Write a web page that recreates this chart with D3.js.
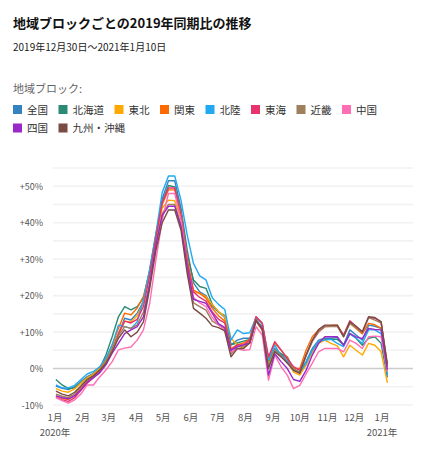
<!DOCTYPE html>
<html><head><meta charset="utf-8">
<script src="https://cdn.jsdelivr.net/npm/d3@7"></script>
<style>
body{margin:0;background:#fff;font-family:"Noto Sans CJK JP","Noto Sans",sans-serif;}
</style></head><body>
<svg id="chart" width="428" height="450"></svg>
<script>
const title = "地域ブロックごとの2019年同期比の推移";
const subtitle = "2019年12月30日〜2021年1月10日";
const legendTitle = "地域ブロック:";
const regions = ["全国","北海道","東北","関東","北陸","東海","近畿","中国","四国","九州・沖縄"];
const colors = ["#3582c0","#2a8a74","#ffa800","#ff6a00","#21a9f2","#e8336e","#a07f5e","#ff6eb4","#9b27c9","#7a4a45"];
const startDate = "2020-01-02"; // mid-week of the first week (week of 2019-12-30)
const yTicks = [-10,0,10,20,30,40,50];
const yGrid = [-10,-5,0,5,10,15,20,25,30,35,40,45,50,55];
const monthLabels = ["1月","2月","3月","4月","5月","6月","7月","8月","9月","10月","11月","12月","1月"];
const yearLabels = [["2020-01-01","2020年"],["2021-01-01","2021年"]];

const s_zenkoku = [-4.8,-5.4,-5.8,-5.0,-3.6,-2.2,-1.3,0.2,2.6,5.6,
 9.5,13.8,13.3,15.2,18.4,26.0,36.0,46.5,51.5,51.5,
 44.0,32.5,23.5,21.0,20.0,17.0,15.5,14.0,6.5,7.8,
 8.3,8.3,13.3,11.5,1.9,5.5,4.0,2.5,-0.5,-0.9,
 1.9,5.5,7.8,8.3,8.3,8.5,6.4,10.6,9.2,7.8,
 11.9,11.6,11.0,-1.8];
const s_hokkaido = [-3.0,-4.5,-5.5,-5.3,-4.0,-2.5,-1.5,0.0,3.7,8.7,
 14.2,17.0,16.1,17.0,19.3,27.1,37.0,45.5,50.2,49.8,
 43.0,31.0,24.3,22.5,22.0,17.6,15.5,14.5,6.5,7.0,
 7.5,8.0,13.0,11.0,1.5,5.0,4.1,3.2,-0.3,-1.2,
 1.0,5.0,7.0,8.0,8.0,8.0,6.5,9.6,8.3,6.4,
 8.3,8.7,6.9,-2.4];
const s_tohoku = [-5.5,-6.2,-6.5,-5.6,-4.0,-2.5,-1.5,0.0,2.5,6.0,
 9.5,13.0,12.8,14.5,18.0,26.0,35.5,44.0,46.2,46.0,
 41.0,30.0,21.0,20.6,19.7,17.6,15.6,14.2,8.3,6.5,
 5.5,7.5,13.0,10.5,1.0,5.0,3.5,2.0,-1.0,-1.8,
 1.0,4.5,6.9,7.8,6.9,6.2,3.2,6.4,5.0,3.7,
 6.9,6.4,4.6,-3.9];
const s_kanto = [-7.5,-8.2,-8.5,-7.4,-5.5,-3.5,-2.0,-0.3,2.5,6.5,
 11.0,15.2,14.7,16.6,19.8,26.5,36.5,45.0,49.0,49.0,
 42.5,30.0,21.5,20.6,19.3,16.5,14.5,13.0,5.5,6.5,
 7.0,8.0,14.2,12.4,2.5,7.0,5.0,3.0,0.0,0.0,
 5.0,8.7,10.6,11.6,11.8,11.9,9.0,12.4,11.0,9.5,
 12.4,12.0,11.0,0.5];
const s_hokuriku = [-4.5,-5.3,-5.3,-4.6,-3.0,-1.5,-0.8,0.5,2.8,6.5,
 11.9,11.5,11.0,12.8,18.8,27.1,37.1,48.3,52.8,52.8,
 46.2,36.6,28.8,25.4,24.3,19.4,17.6,16.2,7.8,10.6,
 9.6,9.8,14.0,12.3,2.3,6.4,3.5,2.0,-0.5,-1.0,
 1.5,5.0,7.5,7.8,8.0,6.9,6.0,9.5,8.3,6.9,
 10.6,10.6,9.6,-1.8];
const s_tokai = [-8.0,-8.6,-9.0,-8.0,-6.0,-4.0,-2.5,-1.0,1.5,5.0,
 9.5,13.0,12.5,13.5,17.0,25.5,36.0,45.5,49.5,49.5,
 42.0,29.0,21.0,19.5,18.5,15.5,13.5,12.5,5.0,6.5,
 6.5,7.8,14.2,12.4,3.2,7.4,5.1,2.7,0.5,-0.5,
 3.5,7.5,10.0,11.5,11.6,11.7,9.2,13.1,11.5,10.0,
 14.0,13.8,12.8,0.5];
const s_kinki = [-7.0,-7.6,-8.0,-7.0,-5.0,-3.2,-2.0,-0.5,1.8,5.0,
 9.0,11.5,11.0,12.0,15.5,23.5,34.0,42.5,45.0,45.0,
 39.5,27.0,18.0,17.0,16.0,13.0,12.0,11.0,4.0,6.0,
 6.0,7.0,13.5,11.0,0.5,5.0,3.5,1.5,0.0,-1.0,
 3.5,7.5,10.2,11.5,11.5,11.5,8.8,12.4,11.2,9.8,
 14.0,13.3,12.5,0.7];
const s_chugoku = [-8.0,-8.8,-9.5,-8.6,-7.0,-4.5,-4.5,-2.3,-0.4,1.9,
 5.1,5.6,5.9,7.8,10.6,17.9,29.8,40.8,48.0,48.0,
 41.0,28.0,19.5,18.0,17.0,14.0,12.0,10.5,4.5,5.5,
 5.0,5.2,11.5,9.2,-3.2,3.7,0.5,-1.8,-5.5,-4.6,
 -1.5,1.5,4.6,5.5,5.5,5.5,4.6,7.8,6.9,5.5,
 8.7,8.9,8.7,-0.9];
const s_shikoku = [-7.5,-8.0,-8.3,-7.5,-5.8,-3.8,-2.5,-1.2,1.0,4.2,
 6.9,9.6,10.6,11.5,14.2,23.0,34.0,42.0,44.5,44.5,
 39.0,28.0,19.0,18.4,17.9,15.2,12.3,11.2,5.0,6.0,
 6.5,7.0,13.0,11.0,-1.8,4.1,1.9,0.0,-3.0,-3.5,
 -0.5,3.7,6.9,8.7,8.7,8.7,6.4,9.6,8.7,8.2,
 11.0,10.7,10.6,-0.3];
const s_kyushu = [-6.2,-7.0,-7.5,-6.5,-4.8,-3.0,-2.0,-0.5,1.4,4.6,
 8.3,10.6,8.7,10.0,12.8,22.0,32.5,40.0,43.5,43.5,
 38.0,26.0,16.5,15.2,13.8,11.7,11.2,10.3,3.2,5.5,
 5.5,7.0,13.3,10.6,0.0,4.6,3.2,1.5,-0.5,-1.3,
 3.7,7.8,10.7,11.9,11.9,11.9,8.7,12.8,11.6,10.1,
 14.2,14.0,12.8,1.3];
const seriesValues = [s_zenkoku,s_hokkaido,s_tohoku,s_kanto,s_hokuriku,s_tokai,s_kinki,s_chugoku,s_shikoku,s_kyushu];

const svg = d3.select("#chart");
const FONT = '"Noto Sans CJK JP","Noto Sans",sans-serif';

svg.append("text").attr("x",13).attr("y",28).attr("font-family",FONT)
  .attr("font-size",13).attr("font-weight","bold").attr("fill","#111").text(title);
svg.append("text").attr("x",13).attr("y",51).attr("font-family",FONT)
  .attr("font-size",10).attr("fill","#222").text(subtitle);
svg.append("text").attr("x",13).attr("y",93).attr("font-family",FONT)
  .attr("font-size",11).attr("fill","#666").text(legendTitle);

// legend (flow layout)
const lg = svg.append("g");
let lx = 13, ly = 105;
regions.forEach((r,i)=>{
  const g = lg.append("g");
  g.append("rect").attr("x",lx).attr("y",ly).attr("width",9).attr("height",9).attr("fill",colors[i]);
  const t = g.append("text").attr("x",lx+14).attr("y",ly+8.7).attr("font-family",FONT)
    .attr("font-size",10.5).attr("fill","#333").text(r);
  const w = 14 + t.node().getComputedTextLength() + 10.5;
  lx += w;
  if (i < regions.length-1 && lx + 14 + 21 > 400) { lx = 13; ly += 18.5; }
});

// scales
const x = d3.scaleTime().domain([new Date(2020,0,1), new Date(2021,0,1)]).range([55,382]);
const y = d3.scaleLinear().domain([-10,55]).range([405,168]);
const gridX0 = 53, gridX1 = 413;

const parse = d3.timeParse("%Y-%m-%d");
const d0 = parse(startDate);
const dates = s_zenkoku.map((_,i)=>d3.timeDay.offset(d0, 7*i));

// grid
svg.append("g").selectAll("line").data(yGrid).join("line")
  .attr("x1",gridX0).attr("x2",gridX1)
  .attr("y1",d=>y(d)).attr("y2",d=>y(d))
  .attr("stroke",d=>d===0?"#cccccc":"#f2f2f2").attr("stroke-width",1.6);

// y labels
svg.append("g").selectAll("text").data(yTicks).join("text")
  .attr("x",43).attr("y",d=>y(d)+3.5).attr("text-anchor","end")
  .attr("font-family",FONT).attr("font-size",9).attr("fill","#555")
  .text(d=> d>0? "+"+d+"%" : d+"%");

// x labels
const months = d3.timeMonth.range(new Date(2020,0,1), new Date(2021,0,2));
svg.append("g").selectAll("text").data(months).join("text")
  .attr("x",d=>x(d)).attr("y",421).attr("text-anchor","middle")
  .attr("font-family",FONT).attr("font-size",9.5).attr("fill","#555")
  .text((d,i)=>monthLabels[i]);
svg.append("g").selectAll("text").data(yearLabels).join("text")
  .attr("x",d=>x(parse(d[0]))).attr("y",436).attr("text-anchor","middle")
  .attr("font-family",FONT).attr("font-size",9.5).attr("fill","#555")
  .text(d=>d[1]);

// lines
const line = d3.line().x((d,i)=>x(dates[i])).y(d=>y(d));
svg.append("g").selectAll("path").data(seriesValues).join("path")
  .attr("d",line).attr("fill","none")
  .attr("stroke",(d,i)=>colors[i]).attr("stroke-width",1.4)
  .attr("stroke-linejoin","round");
</script>
</body></html>
